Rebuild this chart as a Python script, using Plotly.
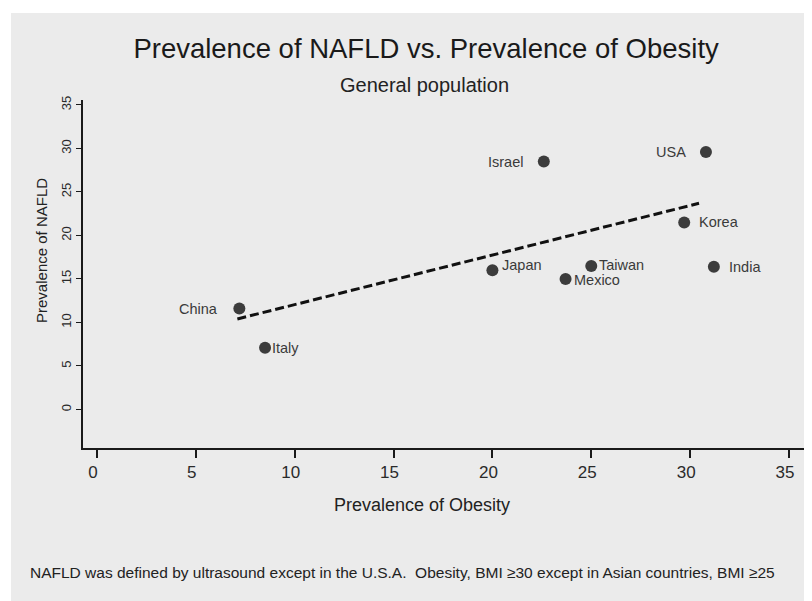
import plotly.graph_objects as go

# ---- data ----
countries = ["China", "Italy", "Japan", "Israel", "Mexico", "Taiwan", "Korea", "USA", "India"]
obesity = [7.2, 8.5, 20.0, 22.6, 23.7, 25.0, 29.7, 30.8, 31.2]
nafld = [11.6, 7.1, 16.0, 28.5, 15.0, 16.5, 21.5, 29.6, 16.4]
fit_x = [7.1, 30.45]
fit_y = [10.4, 23.7]
x_ticks = [0, 5, 10, 15, 20, 25, 30, 35]
y_ticks = [0, 5, 10, 15, 20, 25, 30, 35]

title_text = "Prevalence of NAFLD vs. Prevalence of Obesity"
subtitle_text = "General population"
x_title = "Prevalence of Obesity"
y_title = "Prevalence of NAFLD"
note_text = ("NAFLD was defined by ultrasound except in the U.S.A.&nbsp; Obesity, "
             "BMI \u226530 except in Asian countries, BMI \u226525")

# label placement style: (side, gap px, vertical shift px)
label_style = {
    "China": ("left", 19, 0), "Italy": ("right", 5, 0), "Japan": ("right", 8, 5),
    "Israel": ("left", 19, 0), "Mexico": ("right", 6, -1), "Taiwan": ("right", 6, 1),
    "Korea": ("right", 13, 0), "USA": ("left", 18, 0), "India": ("right", 13, 0),
}

FONT = "Liberation Sans, Arial, sans-serif"

fig = go.Figure()
fig.add_trace(go.Scatter(
    x=fit_x, y=fit_y, mode="lines",
    line=dict(color="#111111", width=3, dash="9px,4px"),
    hoverinfo="skip", showlegend=False,
))
fig.add_trace(go.Scatter(
    x=obesity, y=nafld, mode="markers",
    marker=dict(size=12, color="#3c3c3c"),
    text=countries, showlegend=False,
))

annotations = []
for c, xv, yv in zip(countries, obesity, nafld):
    side, gap, up = label_style[c]
    annotations.append(dict(
        x=xv, y=yv, xref="x", yref="y", text=c, showarrow=False,
        xanchor="right" if side == "left" else "left", yanchor="middle",
        xshift=-gap if side == "left" else gap, yshift=up,
        font=dict(family=FONT, size=14.5, color="#3a3a3a"),
    ))

annotations += [
    dict(text=subtitle_text, x=0.4723, y=1.043, xref="paper", yref="paper",
         showarrow=False, xanchor="center", yanchor="middle",
         font=dict(family=FONT, size=20, color="#222222")),
    dict(text=x_title, x=0.4695, y=-0.164, xref="paper", yref="paper",
         showarrow=False, xanchor="center", yanchor="middle",
         font=dict(family=FONT, size=18, color="#222222")),
    dict(text=y_title, x=-0.0568, y=0.569, xref="paper", yref="paper",
         showarrow=False, xanchor="center", yanchor="middle", textangle=-90,
         font=dict(family=FONT, size=15, color="#222222")),
    dict(text=note_text, x=-0.0762, y=-0.359, xref="paper", yref="paper",
         showarrow=False, xanchor="left", yanchor="middle",
         font=dict(family=FONT, size=15.5, color="#222222")),
]

# the page adds an 8px body margin, so the figure is sized 8px smaller
fig.update_layout(
    width=804, height=593,
    margin=dict(l=75, r=7, t=92, b=153, pad=0),
    paper_bgcolor="white", plot_bgcolor="white",
    title=dict(text=title_text, x=0.520, y=0.9325, xanchor="center", yanchor="middle",
               xref="container", yref="container",
               font=dict(family=FONT, size=27.5, color="#1a1a1a")),
    annotations=annotations,
    shapes=[dict(type="rect", xref="paper", yref="paper", x0=-0.0997, x1=1.02,
                 y0=-0.45, y1=1.250, fillcolor="#ebebeb", line=dict(width=0), layer="below")],
    font=dict(family=FONT),
)
fig.update_xaxes(
    range=[-0.708, 35.81], tickvals=x_ticks, showgrid=False, zeroline=False,
    showline=True, linecolor="#1a1a1a", linewidth=2,
    ticks="outside", ticklen=8, tickwidth=2, tickcolor="#1a1a1a",
    tickfont=dict(family=FONT, size=17, color="#2a2a2a"), ticklabelshift=-4,
)
fig.update_yaxes(
    range=[-4.43, 35.57], tickvals=y_ticks, showgrid=False, zeroline=False,
    showline=True, linecolor="#1a1a1a", linewidth=1.5,
    ticks="outside", ticklen=5, tickwidth=1.2, tickcolor="#1a1a1a", tickangle=-90,
    tickfont=dict(family=FONT, size=13, color="#2a2a2a"),
)

fig.write_html("out.html")
